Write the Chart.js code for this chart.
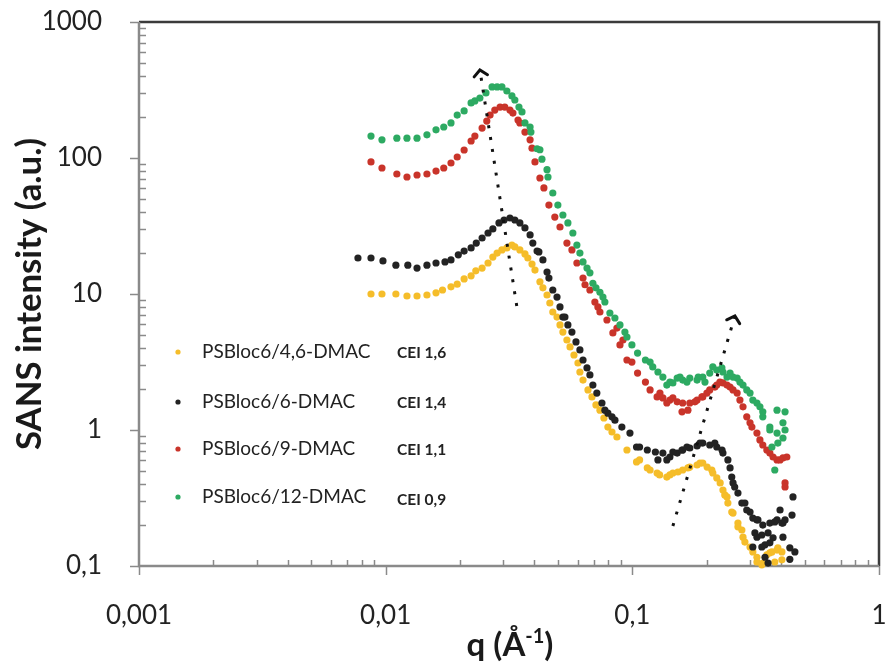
<!DOCTYPE html>
<html>
<head>
<meta charset="utf-8">
<script src="https://cdn.jsdelivr.net/npm/chart.js@4.4.1/dist/chart.umd.min.js"></script>
<style>
  html, body { margin: 0; padding: 0; background: #ffffff; }
  #wrap { width: 885px; height: 672px; }
</style>
</head>
<body>
<div id="wrap"><canvas id="c" width="885" height="672"></canvas></div>
<script>
// ---------------- DATA ----------------
const seriesNames = ["PSBloc6/4,6-DMAC", "PSBloc6/6-DMAC", "PSBloc6/9-DMAC", "PSBloc6/12-DMAC"];
const ceiLabels = ["CEI 1,6", "CEI 1,4", "CEI 1,1", "CEI 0,9"];
const seriesColors = ["#F5BD2A", "#232323", "#C9342A", "#2DAA62"];
const yTitle = "SANS intensity (a.u.)";

const qYellow = [0.00872,0.00966,0.0110,0.0122,0.0134,0.0147,0.0160,0.0170,0.0184,0.0195,0.0208,0.0222,0.0232,0.0246,0.0260,0.0272,0.0283,0.0296,0.0310,0.0325,0.0334,0.0350,0.0367,0.0377,0.0392,0.0403,0.0422,0.0434,0.0451,0.0463,0.0476,0.0495,0.0523,0.0559,0.0602,0.0631,0.0686,0.0739,0.0796,0.0866,0.0951,0.104,0.115,0.126,0.138,0.146,0.160,0.171,0.188,0.201,0.212,0.227,0.242,0.256,0.268,0.281,0.300,0.320,0.338,0.361,0.386,0.404,
  0.237,0.244,0.253,0.268,0.278,0.286,0.308,0.320,0.335,0.368,0.389,0.404,0.378,0.351,
  0.107,0.118,0.129,0.142,0.153,0.168,0.183,0.193,0.210,0.220,0.233,
  0.0509,0.0543,0.0580,0.0613,0.0661,0.0712,0.0767,0.0827];
const iYellow = [10.0,10.0,10.0,9.67,9.67,9.83,10.2,10.7,11.3,11.8,12.9,13.6,14.8,15.5,16.9,18.7,20.0,21.1,21.8,22.9,22.2,21.1,19.7,18.4,16.6,15.0,12.3,11.1,9.83,8.59,7.37,6.77,5.25,4.08,3.11,2.33,1.75,1.40,1.05,0.888,0.713,0.582,0.526,0.483,0.451,0.483,0.508,0.534,0.572,0.534,0.483,0.408,0.322,0.245,0.194,0.163,0.138,0.116,0.105,0.125,0.131,0.111,
  0.333,0.290,0.249,0.207,0.184,0.150,0.127,0.107,0.102,0.127,0.136,0.127,0.107,0.121,
  0.602,0.508,0.467,0.467,0.491,0.526,0.553,0.572,0.508,0.444,0.362,
  5.92,4.59,3.56,2.67,1.97,1.53,1.225,0.967];

const qBlack = [0.00772,0.00872,0.00975,0.0110,0.0123,0.0134,0.0147,0.0160,0.0174,0.0184,0.0197,0.0208,0.0222,0.0233,0.0246,0.0260,0.0272,0.0288,0.0302,0.0319,0.0334,0.0350,0.0367,0.0385,0.0395,0.0411,0.0418,0.0434,0.0451,0.0459,0.0476,0.0495,0.0509,0.0523,0.0533,0.0569,0.0613,0.0631,0.0673,0.0718,0.0753,0.0796,0.0850,0.0907,0.0978,0.104,0.115,0.124,0.133,0.142,0.152,0.160,0.171,0.183,0.193,0.206,0.220,0.233,0.249,0.256,0.268,0.286,0.300,0.320,0.320,0.338,0.345,0.361,0.386,0.408,0.355,0.435,0.444,0.448,
  0.278,0.291,0.308,0.323,0.378,0.404,0.416,0.397,0.314,0.335,0.355,0.372,0.308,0.335,0.361,0.408,0.435,0.456,0.345,
  0.107,0.127,0.138,0.146,0.159,0.1665,0.188,0.216,0.231,0.244,0.253,0.260,
  0.0548,0.0591,0.0655,0.0692,0.0774,0.0827];
const iBlack = [18.4,18.4,17.5,16.3,16.3,15.5,16.3,16.9,17.2,17.8,19.4,20.7,21.8,23.7,25.8,28.1,30.1,33.3,35.0,36.2,35.0,33.3,30.6,27.2,23.7,20.7,20.4,17.8,14.5,13.1,10.7,9.50,8.03,6.77,6.77,5.25,3.88,3.27,2.54,1.87,1.58,1.33,1.18,1.05,0.950,0.750,0.713,0.689,0.677,0.633,0.677,0.713,0.737,0.763,0.802,0.776,0.750,0.677,0.526,0.408,0.344,0.290,0.249,0.218,0.163,0.200,0.143,0.207,0.218,0.207,0.105,0.112,0.237,0.322,
  0.290,0.258,0.225,0.218,0.211,0.207,0.218,0.258,0.175,0.169,0.175,0.161,0.138,0.138,0.148,0.163,0.136,0.127,0.116,
  0.750,0.602,0.602,0.689,0.713,0.750,0.802,0.802,0.713,0.602,0.451,0.381,
  5.92,4.44,2.86,2.14,1.40,1.25];

const qRed = [0.00872,0.00966,0.0111,0.0122,0.0134,0.0147,0.0160,0.0172,0.0184,0.0195,0.0208,0.0222,0.0230,0.0246,0.0257,0.0265,0.0277,0.0291,0.0304,0.0319,0.0328,0.0344,0.0350,0.0367,0.0385,0.0392,0.0403,0.0422,0.0438,0.0459,0.0485,0.0509,0.0543,0.0569,0.0596,0.0631,0.0673,0.0705,0.0739,0.0789,0.0834,0.0891,0.0951,0.0996,0.105,0.113,0.118,0.126,0.133,0.142,0.152,0.160,0.171,0.183,0.193,0.206,0.220,0.233,0.249,0.266,0.281,0.300,0.320,0.338,0.361,0.386,0.408,0.416,
  0.1294,0.138,0.146,0.159,0.168,0.1794,0.1915,0.2006,0.2162,0.2265,0.242,0.256,0.273,0.291,0.3053,0.329,0.351,0.372,0.397,0.423,0.416,
  0.0643,0.0725,0.0866,0.0916];
const iRed = [93.5,84.4,76.3,72.5,75.0,76.3,80.2,84.4,91.9,101.7,114.5,133.4,145,166,187,207,225,237,237,225,214,190,181,155,136,118,93.5,71.3,60.2,45.1,36.8,31.1,23.7,21.1,16.9,13.1,10.7,8.73,7.37,6.44,5.17,4.22,3.27,3.16,2.62,2.25,1.97,1.75,1.72,1.66,1.61,1.58,1.58,1.66,1.75,1.97,2.14,2.22,2.07,1.87,1.48,1.13,0.95,0.776,0.677,0.602,0.623,0.408,
  1.87,1.58,1.72,1.36,1.40,1.61,1.75,1.87,2.07,2.25,2.14,1.97,1.66,1.25,1.05,0.845,0.713,0.633,0.602,0.633,0.381,
  11.7,8.03,5.62,4.59];

const qGreen = [0.00872,0.00966,0.0111,0.0122,0.0134,0.0147,0.0160,0.0172,0.0184,0.0195,0.0208,0.0222,0.0230,0.0241,0.0255,0.0270,0.0283,0.0296,0.0310,0.0325,0.0334,0.0347,0.0357,0.0367,0.0385,0.0388,0.0411,0.0422,0.0430,0.0451,0.0455,0.0476,0.0499,0.0523,0.0548,0.0574,0.0596,0.0613,0.0631,0.0673,0.0692,0.0739,0.0774,0.0811,0.0850,0.0891,0.0951,0.0996,0.105,0.113,0.121,0.127,0.133,0.142,0.152,0.160,0.171,0.183,0.193,0.206,0.220,0.233,0.249,0.266,0.281,0.300,0.320,0.338,0.361,0.378,0.386,0.386,0.408,0.416,
  0.138,0.146,0.156,0.1665,0.185,0.197,0.212,0.2307,0.242,0.256,0.273,0.291,0.308,0.329,0.338,0.361,0.389,0.368,0.408,0.416,
  0.0655,0.0712,0.0760,0.0933,0.118];
const iGreen = [145,136,140,140,140,148,161,169,181,207,222,254,263,276,301,333,333,333,311,286,267,237,218,181,169,155,117,115,98,82,72.5,55.3,45.1,38.1,33.3,28.1,22.9,20.0,17.2,14.3,12.0,10.3,8.73,7.25,6.66,5.92,4.83,4.22,3.68,3.27,2.91,2.67,2.45,2.25,2.41,2.33,2.41,2.33,2.45,2.62,2.76,2.67,2.62,2.41,2.14,1.87,1.58,1.25,1.05,0.508,0.95,1.40,1.13,1.36,
  2.14,2.22,2.45,2.25,2.45,2.25,2.91,2.86,2.45,2.45,2.25,1.97,1.66,1.48,1.36,1.00,0.802,0.75,0.873,1.00,
  15.5,11.1,9.50,5.25,3.16];

// dotted annotation arrows (start -> arrow tip), in data units
const arrow1Q = [0.0340, 0.0241];
const arrow1I = [8.16, 444];
const arrow2Q = [0.146, 0.2605];
const arrow2I = [0.197, 6.89];

// axis ticks
const xMajorTicks = [0.001, 0.01, 0.1, 1];
const yMajorTicks = [0.1, 1, 10, 100, 1000];
const minorMultipliers = [2, 3, 4, 5, 6, 7, 8, 9];

// ---------------- helpers ----------------
function toPoints(qs, is) {
  const n = Math.min(qs.length, is.length);
  const out = [];
  for (let k = 0; k < n; k++) out.push({ x: qs[k], y: is[k] });
  return out;
}
const fmt = v => String(v).replace('.', ',');

const seriesQ = [qYellow, qBlack, qRed, qGreen];
const seriesI = [iYellow, iBlack, iRed, iGreen];

const datasets = seriesNames.map((name, k) => ({
  type: 'scatter',
  label: name,
  data: toPoints(seriesQ[k], seriesI[k]),
  backgroundColor: seriesColors[k],
  borderWidth: 0,
  pointRadius: 3.6,
  pointHoverRadius: 3.6,
  clip: false,
  order: 10 - k
}));

[[arrow1Q, arrow1I], [arrow2Q, arrow2I]].forEach(([aq, ai], k) => {
  datasets.push({
    type: 'line',
    label: 'arrow' + (k + 1),
    data: toPoints(aq, ai),
    borderColor: '#111111',
    borderWidth: 3,
    borderDash: [3, 9],
    borderCapStyle: 'butt',
    pointRadius: 0,
    fill: false,
    clip: false,
    order: 0,
    isArrow: true
  });
});

// ---------------- custom drawing plugin ----------------
const framePlugin = {
  id: 'frame',
  beforeDatasetsDraw(chart) {
    const { ctx, chartArea: a, scales: { x, y } } = chart;
    ctx.save();
    ctx.strokeStyle = '#3b3b3b';
    ctx.lineWidth = 2.5;
    ctx.beginPath();
    ctx.moveTo(a.left, a.top);
    ctx.lineTo(a.right, a.top);
    ctx.lineTo(a.right, a.bottom);
    ctx.stroke();
    ctx.strokeStyle = '#8a8a8a';
    ctx.lineWidth = 2.5;
    ctx.beginPath();
    ctx.moveTo(a.left, a.top);
    ctx.lineTo(a.left, a.bottom);
    ctx.lineTo(a.right, a.bottom);
    ctx.stroke();
    ctx.lineWidth = 1.5;
    ctx.beginPath();
    yMajorTicks.forEach(v => {
      const py = Math.round(y.getPixelForValue(v)) + 0.5;
      ctx.moveTo(a.left - 9, py); ctx.lineTo(a.left, py);
    });
    xMajorTicks.forEach(v => {
      const px = Math.round(x.getPixelForValue(v)) + 0.5;
      ctx.moveTo(px, a.bottom); ctx.lineTo(px, a.bottom + 9);
    });
    yMajorTicks.slice(0, -1).forEach(d => minorMultipliers.forEach(m => {
      const py = Math.round(y.getPixelForValue(d * m)) + 0.5;
      ctx.moveTo(a.left, py); ctx.lineTo(a.left + 7, py);
    }));
    xMajorTicks.slice(0, -1).forEach(d => minorMultipliers.forEach(m => {
      const px = Math.round(x.getPixelForValue(d * m)) + 0.5;
      ctx.moveTo(px, a.bottom); ctx.lineTo(px, a.bottom - 6);
    }));
    ctx.stroke();
    ctx.restore();
  },
  afterDraw(chart) {
    const { ctx, chartArea: a, scales: { x, y } } = chart;
    ctx.save();
    // arrow heads
    chart.data.datasets.forEach(ds => {
      if (!ds.isArrow) return;
      const p0 = ds.data[0], p1 = ds.data[ds.data.length - 1];
      const x0 = x.getPixelForValue(p0.x), y0 = y.getPixelForValue(p0.y);
      const x1 = x.getPixelForValue(p1.x), y1 = y.getPixelForValue(p1.y);
      const ang = Math.atan2(y1 - y0, x1 - x0);
      const len = 9, spread = Math.PI * 0.27;
      ctx.strokeStyle = '#111111';
      ctx.lineWidth = 3;
      ctx.lineCap = 'round';
      ctx.beginPath();
      ctx.moveTo(x1 - len * Math.cos(ang - spread), y1 - len * Math.sin(ang - spread));
      ctx.lineTo(x1, y1);
      ctx.lineTo(x1 - len * Math.cos(ang + spread), y1 - len * Math.sin(ang + spread));
      ctx.stroke();
    });
    // legend (inside plot)
    const rowY = [352, 402, 449, 497];
    ctx.textBaseline = 'middle';
    ctx.textAlign = 'left';
    seriesNames.forEach((name, k) => {
      ctx.fillStyle = seriesColors[k];
      ctx.beginPath();
      ctx.arc(178, rowY[k], 2.6, 0, Math.PI * 2);
      ctx.fill();
      ctx.fillStyle = '#222222';
      ctx.font = '19px Lato';
      ctx.fillText(name, 202, rowY[k]);
      ctx.font = 'bold 15.5px Lato';
      ctx.fillText(ceiLabels[k], 397, rowY[k] + (k === 3 ? 3 : 1));
    });
    // y axis title (rotated)
    ctx.save();
    ctx.fillStyle = '#1a1a1a';
    ctx.font = 'bold 33px Lato';
    const w33 = ctx.measureText(yTitle).width;
    const ySize = 33 * 312 / w33;
    ctx.font = 'bold ' + ySize.toFixed(2) + 'px Lato';
    ctx.translate(30, (a.top + a.bottom) / 2);
    ctx.rotate(-Math.PI / 2);
    ctx.textAlign = 'center';
    ctx.textBaseline = 'middle';
    ctx.fillText(yTitle, 0, 0);
    ctx.restore();
    // x axis title with superscript
    ctx.fillStyle = '#1a1a1a';
    ctx.textAlign = 'left';
    ctx.textBaseline = 'alphabetic';
    const big = 'bold 33px Lato', small = 'bold 20px Lato';
    const parts = [['q (Å', big, 0], ['-1', small, -13], [')', big, 0]];
    let total = 0;
    parts.forEach(p => { ctx.font = p[1]; total += ctx.measureText(p[0]).width; });
    let cx = 510 - total / 2;
    parts.forEach(p => {
      ctx.font = p[1];
      ctx.fillText(p[0], cx, 656 + p[2]);
      cx += ctx.measureText(p[0]).width;
    });
    ctx.restore();
  }
};

function build() {
  new Chart(document.getElementById('c'), {
    data: { datasets },
    options: {
      responsive: false,
      devicePixelRatio: 1,
      animation: false,
      layout: { padding: { left: 0, top: 22, right: 6, bottom: 0 } },
      plugins: { legend: { display: false }, tooltip: { enabled: false } },
      scales: {
        x: {
          type: 'logarithmic',
          min: 0.001, max: 1,
          grid: { display: false },
          border: { display: false },
          afterBuildTicks: s => { s.ticks = xMajorTicks.map(v => ({ value: v, major: true })); },
          ticks: {
            callback: v => fmt(v),
            font: { family: 'Lato', size: 26 },
            color: '#222222',
            padding: 26,
            maxRotation: 0, minRotation: 0,
            autoSkip: false
          },
          afterFit: s => { s.height = 106; s.paddingLeft = 0; s.paddingRight = 0; }
        },
        y: {
          type: 'logarithmic',
          min: 0.1, max: 1000,
          grid: { display: false },
          border: { display: false },
          afterBuildTicks: s => { s.ticks = yMajorTicks.map(v => ({ value: v, major: true })); },
          ticks: {
            callback: v => fmt(v),
            font: { family: 'Lato', size: 26 },
            color: '#222222',
            padding: 29,
            autoSkip: false
          },
          afterFit: s => { s.width = 139; s.paddingTop = 0; s.paddingBottom = 0; }
        }
      }
    },
    plugins: [framePlugin]
  });
}

const fontLoads = ['19px Lato', 'bold 15.5px Lato', '26px Lato', 'bold 33px Lato', 'bold 20px Lato']
  .map(f => (document.fonts && document.fonts.load) ? document.fonts.load(f, 'SANS 0,1 Å') : Promise.resolve());
Promise.all(fontLoads).then(build, build);
</script>
</body>
</html>
